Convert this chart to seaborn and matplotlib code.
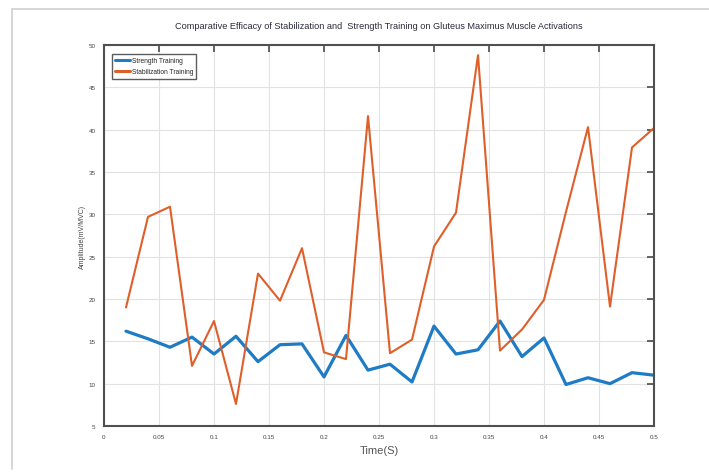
import numpy as np
import pandas as pd
import matplotlib
matplotlib.use("Agg")
import matplotlib.pyplot as plt
import seaborn as sns
from matplotlib.lines import Line2D

time_s = [0.02, 0.04, 0.06, 0.08, 0.10, 0.12, 0.14, 0.16, 0.18, 0.20,
          0.22, 0.24, 0.26, 0.28, 0.30, 0.32, 0.34, 0.36, 0.38, 0.40,
          0.42, 0.44, 0.46, 0.48, 0.50]
strength = [16.2, 15.3, 14.3, 15.5, 13.5, 15.6, 12.6, 14.6, 14.7, 10.8,
            15.7, 11.6, 12.3, 10.2, 16.8, 13.5, 14.0, 17.4, 13.2, 15.4,
            9.9, 10.7, 10.0, 11.3, 11.0]
stabilization = [19.0, 29.7, 30.9, 12.1, 17.4, 7.6, 23.0, 19.8, 26.0, 13.7,
                 12.9, 41.6, 13.6, 15.2, 26.2, 30.2, 48.8, 13.9, 16.4, 19.9,
                 30.3, 40.3, 19.1, 37.9, 40.2]
series_names = ["Strength Training", "Stabilization Training"]
x_ticks = [0, 0.05, 0.1, 0.15, 0.2, 0.25, 0.3, 0.35, 0.4, 0.45, 0.5]
x_tick_labels = ["0", "0.05", "0.1", "0.15", "0.2", "0.25", "0.3", "0.35", "0.4", "0.45", "0.5"]
y_ticks = [5, 10, 15, 20, 25, 30, 35, 40, 45, 50]
title = "Comparative Efficacy of Stabilization and  Strength Training on Gluteus Maximus Muscle Activations"

df = pd.DataFrame({
    "Time": time_s * 2,
    "Amplitude": strength + stabilization,
    "Series": [series_names[0]] * len(time_s) + [series_names[1]] * len(time_s),
})

sns.set_style("white")
plt.rcParams["font.family"] = ["Liberation Sans Narrow", "Liberation Sans", "DejaVu Sans"]

fig = plt.figure(figsize=(7.09, 4.77), dpi=100)
ax = fig.add_axes([104 / 709, 1 - 427 / 477, 550 / 709, 381 / 477])

colors = {series_names[0]: "#1f7cc4", series_names[1]: "#df5f2a"}
sns.lineplot(data=df[df.Series == series_names[0]], x="Time", y="Amplitude",
             color=colors[series_names[0]], linewidth=2.3, ax=ax, legend=False)
sns.lineplot(data=df[df.Series == series_names[1]], x="Time", y="Amplitude",
             color=colors[series_names[1]], linewidth=1.5, ax=ax, legend=False)

ax.set_xlim(0, 0.5)
ax.set_ylim(5, 50)
ax.set_xticks(x_ticks)
ax.set_xticklabels(x_tick_labels)
ax.set_yticks(y_ticks)
ax.set_yticklabels([str(v) for v in y_ticks])
ax.tick_params(axis="both", direction="in", length=5, width=1.2, labelsize=4.5,
               top=True, right=True, colors="#4a4a4a", labelcolor="#444444", pad=6)
ax.grid(True, color="#e2e2e2", linewidth=0.8)
for s in ax.spines.values():
    s.set_color("#505050")
    s.set_linewidth(1.5)

ax.set_xlabel("Time(S)", fontsize=8, color="#555555", labelpad=4)
ax.set_ylabel("Amplitude(mV/MVC)", fontsize=5, color="#444444", labelpad=2)
ax.set_title(title, fontsize=6.6, color="#2a2a3a", pad=12)

handles = [Line2D([0], [0], color=colors[series_names[0]], lw=2.2),
           Line2D([0], [0], color=colors[series_names[1]], lw=2.2)]
leg = ax.legend(handles, series_names, loc="upper left", fontsize=4.8,
                frameon=True, fancybox=False, edgecolor="#333333",
                handlelength=2.2, handletextpad=0.3, borderpad=0.5,
                bbox_to_anchor=(0.008, 0.985), labelspacing=0.6)
leg.get_frame().set_linewidth(1.0)

fig.add_artist(Line2D([12 / 709, 12 / 709], [1 - 470 / 477, 1 - 10 / 477],
                      color="#d0d0d0", lw=1.2, transform=fig.transFigure))
fig.add_artist(Line2D([12 / 709, 1.0], [1 - 10 / 477, 1 - 10 / 477],
                      color="#d0d0d0", lw=1.2, transform=fig.transFigure))

fig.savefig("out.png", dpi=100, facecolor="white")
